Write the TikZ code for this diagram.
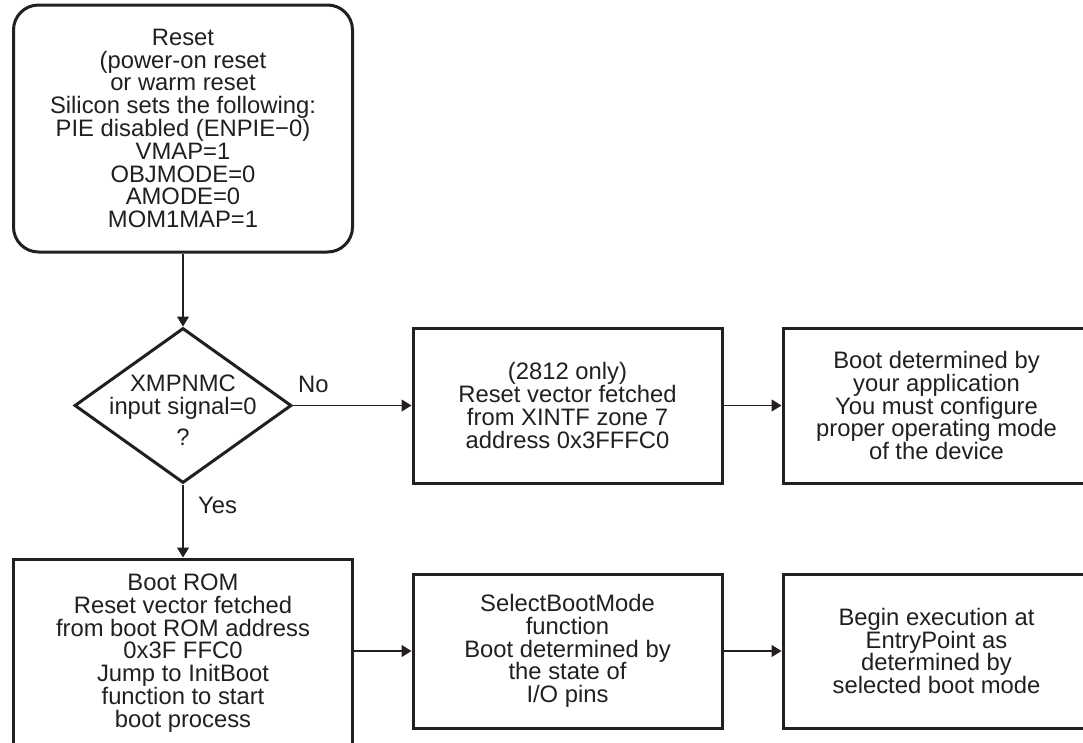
\documentclass[tikz,border=0pt]{standalone}
\usepackage{fontspec}
\setmainfont{Liberation Sans}
\usetikzlibrary{shapes.geometric,arrows.meta}
\definecolor{ink}{HTML}{231F20}
\begin{document}
\begin{tikzpicture}[x=1pt,y=-1pt,
  txt/.style={font=\fontsize{23.8}{22.8}\selectfont, text=ink, align=center},
  box/.style={txt, draw=ink, line width=3pt, inner sep=0pt},
  link/.style={draw=ink, line width=1.1pt, -{Triangle[length=10pt,width=12pt]}},
  lbl/.style={font=\fontsize{23.8}{22.8}\selectfont, text=ink, inner sep=0pt}
]
\useasboundingbox (0,0) rectangle (1083,742);
\fill[white] (0,0) rectangle (1083,742);

% start of the flow
\node[box, rounded corners=25pt, minimum width=339pt, minimum height=247pt] (reset) at (183,128.5)
  {Reset\\(power-on reset\\or warm reset\\Silicon sets the following:\\PIE disabled (ENPIE−0)\\VMAP=1\\OBJMODE=0\\AMODE=0\\MOM1MAP=1};

% decision on the XMPNMC pin
\node[draw=ink, line width=3pt, diamond, minimum width=217pt, minimum height=155pt, inner sep=0pt] (test) at (183,405.5) {};
\node[txt] (testtxt) at (183,410) {XMPNMC\\input signal=0\\[8pt]?};

% "No" branch
\node[box, minimum width=309pt, minimum height=155pt] (fetch) at (567.5,405.5)
  {(2812 only)\\Reset vector fetched\\from XINTF zone 7\\address 0x3FFFC0};
\node[box, minimum width=307pt, minimum height=155pt] (app) at (936.5,405.5)
  {Boot determined by\\your application\\You must configure\\proper operating mode\\of the device};

% "Yes" branch
\node[box, minimum width=339pt, minimum height=188pt] (bootrom) at (183,653)
  {Boot ROM\\Reset vector fetched\\from boot ROM address\\0x3F FFC0\\Jump to InitBoot\\function to start\\boot process};
\node[box, minimum width=309pt, minimum height=154pt] (select) at (567.5,651)
  {SelectBootMode\\function\\Boot determined by\\the state of\\I/O pins};
\node[box, minimum width=307pt, minimum height=154pt] (entry) at (936.5,651)
  {Begin execution at\\EntryPoint as\\determined by\\selected boot mode};

% connectors
\draw[link] (reset.south) -- (test.north);
\draw[link] (test.east) -- (fetch.west);
\draw[link] (fetch.east) -- (app.west);
\draw[link] (test.south) -- (bootrom.north);
\draw[link] (bootrom.east |- select.west) -- (select.west);
\draw[link] (select.east) -- (entry.west);

% branch labels
\node[lbl, anchor=base west] (no) at (298,392) {No};
\node[lbl, anchor=base west] (yes) at (198,513) {Yes};
\end{tikzpicture}
\end{document}
